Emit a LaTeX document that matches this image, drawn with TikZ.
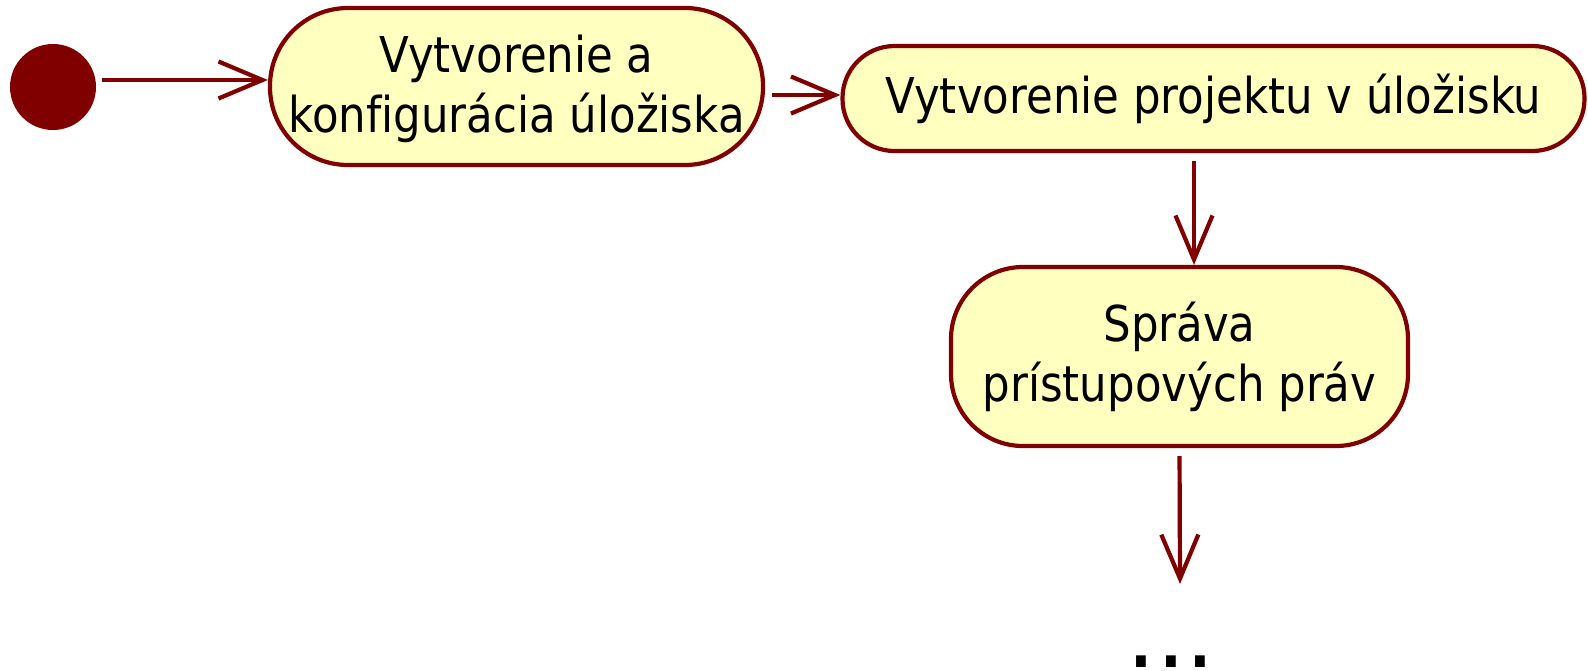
\documentclass[tikz,border=0pt]{standalone}
\usepackage{fontspec}
\newfontfamily\umlfont{DejaVu Sans}[FakeStretch=0.88, Ligatures=NoCommon]
\newfontfamily\dotfont{DejaVu Sans}
\usetikzlibrary{arrows.meta}
\definecolor{umlred}{HTML}{800000}
\definecolor{umlfill}{HTML}{FFFFC0}

\begin{document}
\begin{tikzpicture}[x=0.5pt, y=-0.5pt,
        activity/.style={draw=umlred, fill=umlfill, line width=2.1pt, align=center, inner sep=0pt,
          font=\umlfont\fontsize{24.7pt}{30pt}\selectfont},
        flow/.style={draw=umlred, line width=2.1pt, -{Straight Barb[length=22pt,width=18.5pt]}}]
        \useasboundingbox (0,0) rectangle (1588,670);
        \node[circle, fill=umlred, minimum size=43pt, inner sep=0pt] (start) at (53,87) {};
        \node[activity, minimum width=246.5pt, minimum height=78.5pt, rounded corners=39pt] (create) at (516.5,86.5) {\rule{0pt}{21pt}Vytvorenie a\\konfigurácia úložiska};
        \node[activity, minimum width=371pt, minimum height=52.5pt, rounded corners=26pt] (project) at (1213.5,98.5) {Vytvorenie projektu v úložisku};
        \node[activity, minimum width=228.5pt, minimum height=89.5pt, rounded corners=36pt] (access) at (1179.5,356.5) {Správa\\prístupových práv};
        \node[font=\dotfont\fontsize{47pt}{47pt}\selectfont, anchor=base, inner sep=0pt] (more) at (1171,667) {...};
        \coordinate (row1) at (0,80);
        \coordinate (row2) at (0,95);
        \coordinate (col1) at (1194,0);
        \coordinate (tip) at (1180,584);
        \draw[flow, shorten <=3pt] (start.east |- row1) -- (create.west |- row1);
        \draw[flow, shorten <=3.5pt] (create.east |- row2) -- (project.west |- row2);
        \draw[flow, shorten <=4pt] (project.south -| col1) -- (access.north -| col1);
        \draw[flow, shorten <=4pt] (access.south) -- (tip);
\end{tikzpicture}
\end{document}
